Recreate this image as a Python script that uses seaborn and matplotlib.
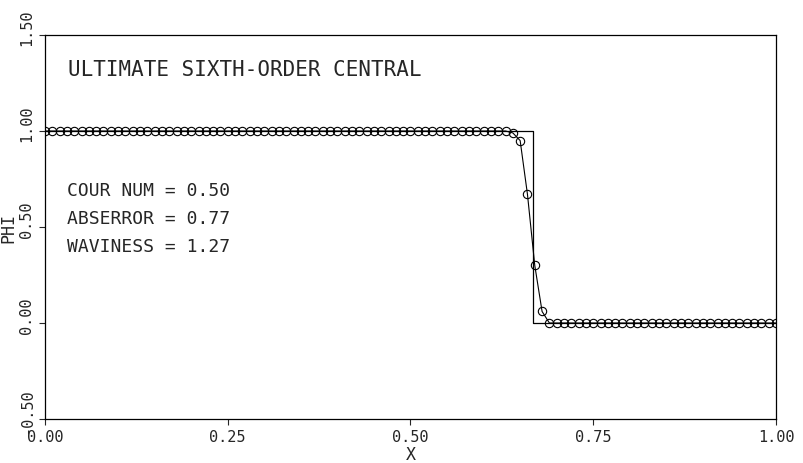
import numpy as np
import pandas as pd
import matplotlib
matplotlib.use("Agg")
import matplotlib.pyplot as plt
import matplotlib.transforms as mtransforms
import seaborn as sns

# Computed solution, 101 grid points (dx = 0.01)
x_grid = np.arange(101) / 100.0
phi_num = [1.00] * 64 + [0.99, 0.95, 0.67, 0.30, 0.06] + [0.00] * 32

# Exact solution (step)
x_exact = [0.0, 0.667, 0.667, 1.0]
phi_exact = [1.0, 1.0, 0.0, 0.0]

x_ticks = [0.0, 0.25, 0.50, 0.75, 1.00]
y_ticks = [-0.5, 0.0, 0.5, 1.0, 1.5]

title_text = "ULTIMATE SIXTH-ORDER CENTRAL"
stats_text = ["COUR NUM = 0.50", "ABSERROR = 0.77", "WAVINESS = 1.27"]

sns.set_style("ticks")
plt.rcParams["font.family"] = ["DejaVu Sans Mono", "DejaVu Sans"]

fig = plt.figure(figsize=(8.04, 4.64), dpi=100)
ax = fig.add_axes([45 / 804, 1 - 420 / 464, 731 / 804, 384 / 464])

num_df = pd.DataFrame({"X": x_grid, "PHI": phi_num})
exact_df = pd.DataFrame({"X": x_exact, "PHI": phi_exact})

sns.lineplot(data=exact_df, x="X", y="PHI", ax=ax, color="black", lw=0.9,
             sort=False, estimator=None)
sns.lineplot(data=num_df, x="X", y="PHI", ax=ax, color="black", lw=0.8,
             marker="o", markersize=6, markerfacecolor="none",
             markeredgecolor="black", markeredgewidth=0.8,
             sort=False, estimator=None)

ax.set_xlim(0, 1)
ax.set_ylim(-0.5, 1.5)
ax.set_xticks(x_ticks)
ax.set_yticks(y_ticks)
ax.set_xticklabels([f"{v:.2f}" for v in x_ticks], fontsize=11)
ax.set_yticklabels([f"{v:.2f}" for v in y_ticks], fontsize=11, rotation=90,
                   va="center")
ax.tick_params(direction="out", length=4, width=0.8, pad=3)
ax.tick_params(axis="y", pad=4)
for s in ax.spines.values():
    s.set_linewidth(0.9)
    s.set_color("black")

# y labels sit a little above their ticks, as in the original plot
shift = mtransforms.ScaledTranslation(0, 6 / 72, fig.dpi_scale_trans)
for lab in ax.get_yticklabels():
    lab.set_transform(lab.get_transform() + shift)

ax.set_xlabel("X", fontsize=12, labelpad=1)
ax.set_ylabel("PHI", fontsize=12, labelpad=1)

ax.text(0.031, 1.323, title_text, fontsize=15, va="center", ha="left")
for i, s in enumerate(stats_text):
    ax.text(0.030, 0.693 - i * 0.146, s, fontsize=13, va="center", ha="left")

fig.savefig("out.png", dpi=100)
